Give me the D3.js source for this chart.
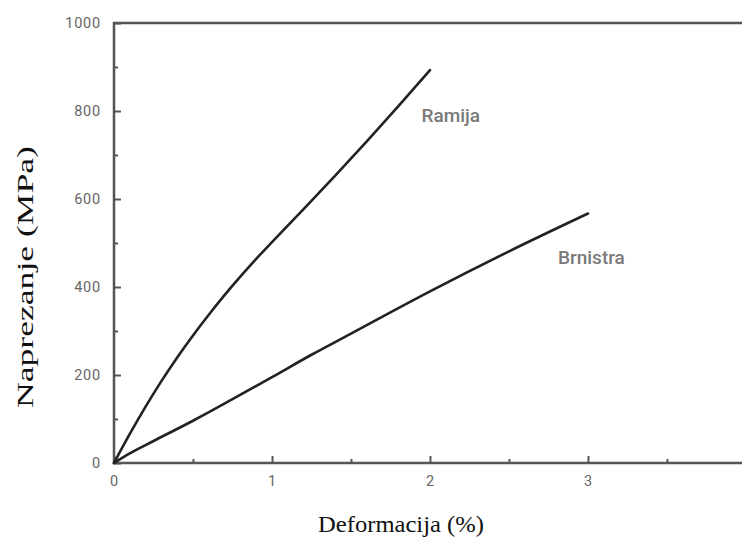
<!DOCTYPE html>
<html>
<head>
<meta charset="utf-8">
<script src="https://cdn.jsdelivr.net/npm/d3@7"></script>
<style>
  html, body { margin: 0; padding: 0; background: #fff; }
  svg { display: block; }
</style>
</head>
<body>
<svg id="chart" width="742" height="541"></svg>
<script>
// ---- data ----
const ramijaStrain = [0, 0.10, 0.20, 0.30, 0.40, 0.50, 0.60, 0.75, 0.90, 1.00, 1.20, 1.40, 1.60, 1.80, 2.00];
const ramijaStress = [0, 66, 128, 186, 240, 290, 337, 403, 464, 502, 577, 653, 731, 811, 893];
const brnistraStrain = [0, 0.10, 0.25, 0.50, 0.75, 1.00, 1.25, 1.50, 2.00, 2.50, 3.00];
const brnistraStress = [0, 22, 50, 96, 145, 195, 246, 294, 390, 481, 567];
const xMajorTicks = [0, 1, 2, 3];
const xMinorTicks = [0.5, 1.5, 2.5, 3.5];
const yMajorTicks = [0, 200, 400, 600, 800, 1000];
const yMinorTicks = [100, 300, 500, 700, 900];
const seriesNames = ["Ramija", "Brnistra"];
const xTitle = "Deformacija (%)";
const yTitle = "Naprezanje (MPa)";

const svg = d3.select("#chart");
const x = d3.scaleLinear().domain([0, 4]).range([114, 746]);
const y = d3.scaleLinear().domain([0, 1000]).range([463, 23]);

const axisColor = "#555";
const labelColor = "#666";

// frame lines: left, bottom, top
svg.append("line").attr("x1", x(0)).attr("x2", x(0)).attr("y1", y(0) + 1).attr("y2", y(1000) - 1)
  .attr("stroke", axisColor).attr("stroke-width", 2.5);
svg.append("line").attr("x1", x(0) - 1).attr("x2", 742).attr("y1", y(0)).attr("y2", y(0))
  .attr("stroke", axisColor).attr("stroke-width", 2.5);
svg.append("line").attr("x1", x(0) - 1).attr("x2", 742).attr("y1", y(1000)).attr("y2", y(1000))
  .attr("stroke", axisColor).attr("stroke-width", 2.5);

function styleAxis(g) {
  g.select(".domain").remove();
  g.selectAll(".tick line").attr("stroke", axisColor).attr("stroke-width", 2);
  g.selectAll(".tick text").attr("fill", labelColor)
    .style("font-family", "Roboto, 'DejaVu Sans', sans-serif").style("font-size", "14.5px")
    .style("letter-spacing", "0.8px");
}

// x axis
svg.append("g").attr("transform", `translate(0,${y(0)})`)
  .call(d3.axisBottom(x).tickValues(xMajorTicks).tickSizeInner(-7).tickSizeOuter(0).tickPadding(13).tickFormat(d3.format("d")))
  .call(styleAxis);
svg.append("g").attr("transform", `translate(0,${y(0)})`)
  .call(d3.axisBottom(x).tickValues(xMinorTicks).tickSizeInner(-4).tickSizeOuter(0).tickFormat(""))
  .call(styleAxis);

// y axis
svg.append("g").attr("transform", `translate(${x(0)},0)`)
  .call(d3.axisLeft(y).tickValues(yMajorTicks).tickSizeInner(-7).tickSizeOuter(0).tickPadding(13).tickFormat(d3.format("d")))
  .call(styleAxis);
svg.append("g").attr("transform", `translate(${x(0)},0)`)
  .call(d3.axisLeft(y).tickValues(yMinorTicks).tickSizeInner(-4).tickSizeOuter(0).tickFormat(""))
  .call(styleAxis);

// curves
const line = d3.line().x(d => x(d[0])).y(d => y(d[1])).curve(d3.curveCatmullRom.alpha(0.5));
const ramija = ramijaStrain.map((s, i) => [s, ramijaStress[i]]);
const brnistra = brnistraStrain.map((s, i) => [s, brnistraStress[i]]);
[ramija, brnistra].forEach(data => {
  svg.append("path").datum(data).attr("d", line)
    .attr("fill", "none").attr("stroke", "#222").attr("stroke-width", 2.6)
    .attr("stroke-linecap", "round");
});

// series labels
const seriesLabelPos = [[1.946, 775], [2.81, 452]];
seriesNames.forEach((n, i) => {
  svg.append("text").attr("x", x(seriesLabelPos[i][0])).attr("y", y(seriesLabelPos[i][1]))
    .attr("fill", "#7a7a7a").style("font-family", "Roboto, 'DejaVu Sans', sans-serif")
    .style("font-size", "19px").style("font-weight", "500").text(n);
});

// axis titles
svg.append("text").attr("x", 401).attr("y", 532).attr("text-anchor", "middle")
  .attr("fill", "#111").style("font-family", "'Liberation Serif', 'Times New Roman', serif")
  .style("font-size", "24px").attr("textLength", 166).attr("lengthAdjust", "spacingAndGlyphs").text(xTitle);
svg.append("text").attr("transform", "translate(33,277) rotate(-90)").attr("text-anchor", "middle")
  .attr("fill", "#111").style("font-family", "'Liberation Serif', 'Times New Roman', serif")
  .style("font-size", "23px").attr("textLength", 262).attr("lengthAdjust", "spacingAndGlyphs").text(yTitle);
</script>
</body>
</html>
